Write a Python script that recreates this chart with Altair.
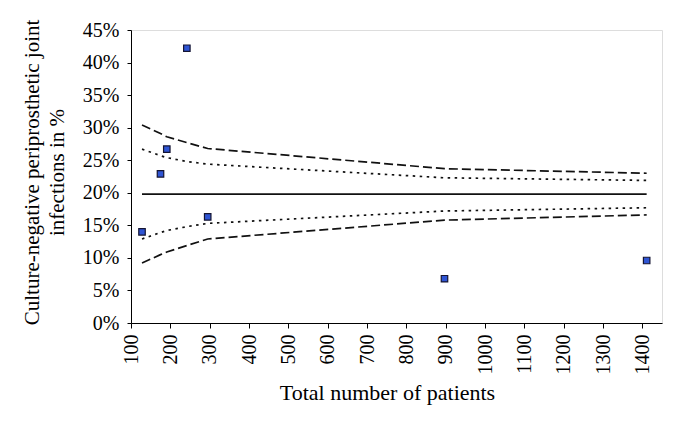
import altair as alt
import pandas as pd

# Study points
patients = [128, 175, 191, 242, 295, 897, 1411]
rates = [14.0, 22.9, 26.7, 42.2, 16.3, 6.8, 9.6]

# Funnel limits
limit_x = [128, 175, 191, 242, 295, 897, 1411]
upper_dash = [30.4, 29.1, 28.6, 27.7, 26.8, 23.7, 23.0]
upper_dot = [26.7, 25.7, 25.4, 24.8, 24.4, 22.3, 21.9]
lower_dot = [12.9, 13.9, 14.2, 14.8, 15.3, 17.2, 17.7]
lower_dash = [9.2, 10.5, 10.9, 11.9, 12.9, 15.8, 16.6]
center_x = [128, 1411]
center_y = [19.8, 19.8]

x_ticks = list(range(100, 1401, 100))
y_ticks = list(range(0, 46, 5))

FONT = "Liberation Serif"

rows = []
for name, style, ys in [("ud", "dash", upper_dash), ("ut", "dot", upper_dot),
                        ("lt", "dot", lower_dot), ("ld", "dash", lower_dash)]:
    for x, y in zip(limit_x, ys):
        rows.append({"n": x, "v": y, "series": name, "style": style})
for x, y in zip(center_x, center_y):
    rows.append({"n": x, "v": y, "series": "c", "style": "solid"})
lines_df = pd.DataFrame(rows)
pts_df = pd.DataFrame({"n": patients, "v": rates})

xscale = alt.Scale(domain=[100, 1450], nice=False, zero=False)
yscale = alt.Scale(domain=[0, 45], nice=False)

xaxis = alt.Axis(values=x_ticks, title="Total number of patients", labelAngle=270,
                 format="d", labelOverlap=False,
                 grid=False, domainColor="black", tickColor="black", tickSize=5,
                 labelFont=FONT, labelFontSize=20, labelColor="black", labelPadding=6,
                 titleFont=FONT, titleFontSize=22, titleFontWeight="normal",
                 titleColor="black", titlePadding=8, labelFlush=False,
                 titleAnchor="middle", titleX=256)
yaxis = alt.Axis(values=y_ticks, title=["Culture-negative periprosthetic joint", "infections in %"],
                 labelExpr="datum.value + '%'", labelOverlap=False, grid=False,
                 domainColor="black", tickColor="black", tickSize=4, labelFont=FONT,
                 labelFontSize=20, labelColor="black", labelPadding=8, titleFont=FONT,
                 titleFontSize=21, titleFontWeight="normal", titleColor="black",
                 titlePadding=15, titleLineHeight=25, labelFlush=False,
                 titleAnchor="middle", titleY=142)

lines = alt.Chart(lines_df).mark_line(color="#111111", strokeWidth=1.7).encode(
    x=alt.X("n:Q", scale=xscale, axis=xaxis),
    y=alt.Y("v:Q", scale=yscale, axis=yaxis),
    detail="series:N",
    strokeDash=alt.StrokeDash("style:N", scale=alt.Scale(domain=["dash", "dot", "solid"],
                                                        range=[[9, 4], [2.5, 4.5], [1, 0]]),
                              legend=None),
)

points = alt.Chart(pts_df).mark_point(shape="square", filled=True, size=42,
                                      color="#2f55d4", stroke="#141432",
                                      strokeWidth=1.2, opacity=1).encode(
    x=alt.X("n:Q", scale=xscale, axis=xaxis),
    y=alt.Y("v:Q", scale=yscale, axis=yaxis),
)

chart = alt.layer(lines, points).properties(
    width=531, height=293,
    autosize=alt.AutoSizeParams(type="none"),
    padding={"left": 123, "top": 22, "right": 6, "bottom": 91},
).configure_view(stroke=None).configure(background="white")

chart.save("out.html", embed_options={"renderer": "svg", "actions": False})
